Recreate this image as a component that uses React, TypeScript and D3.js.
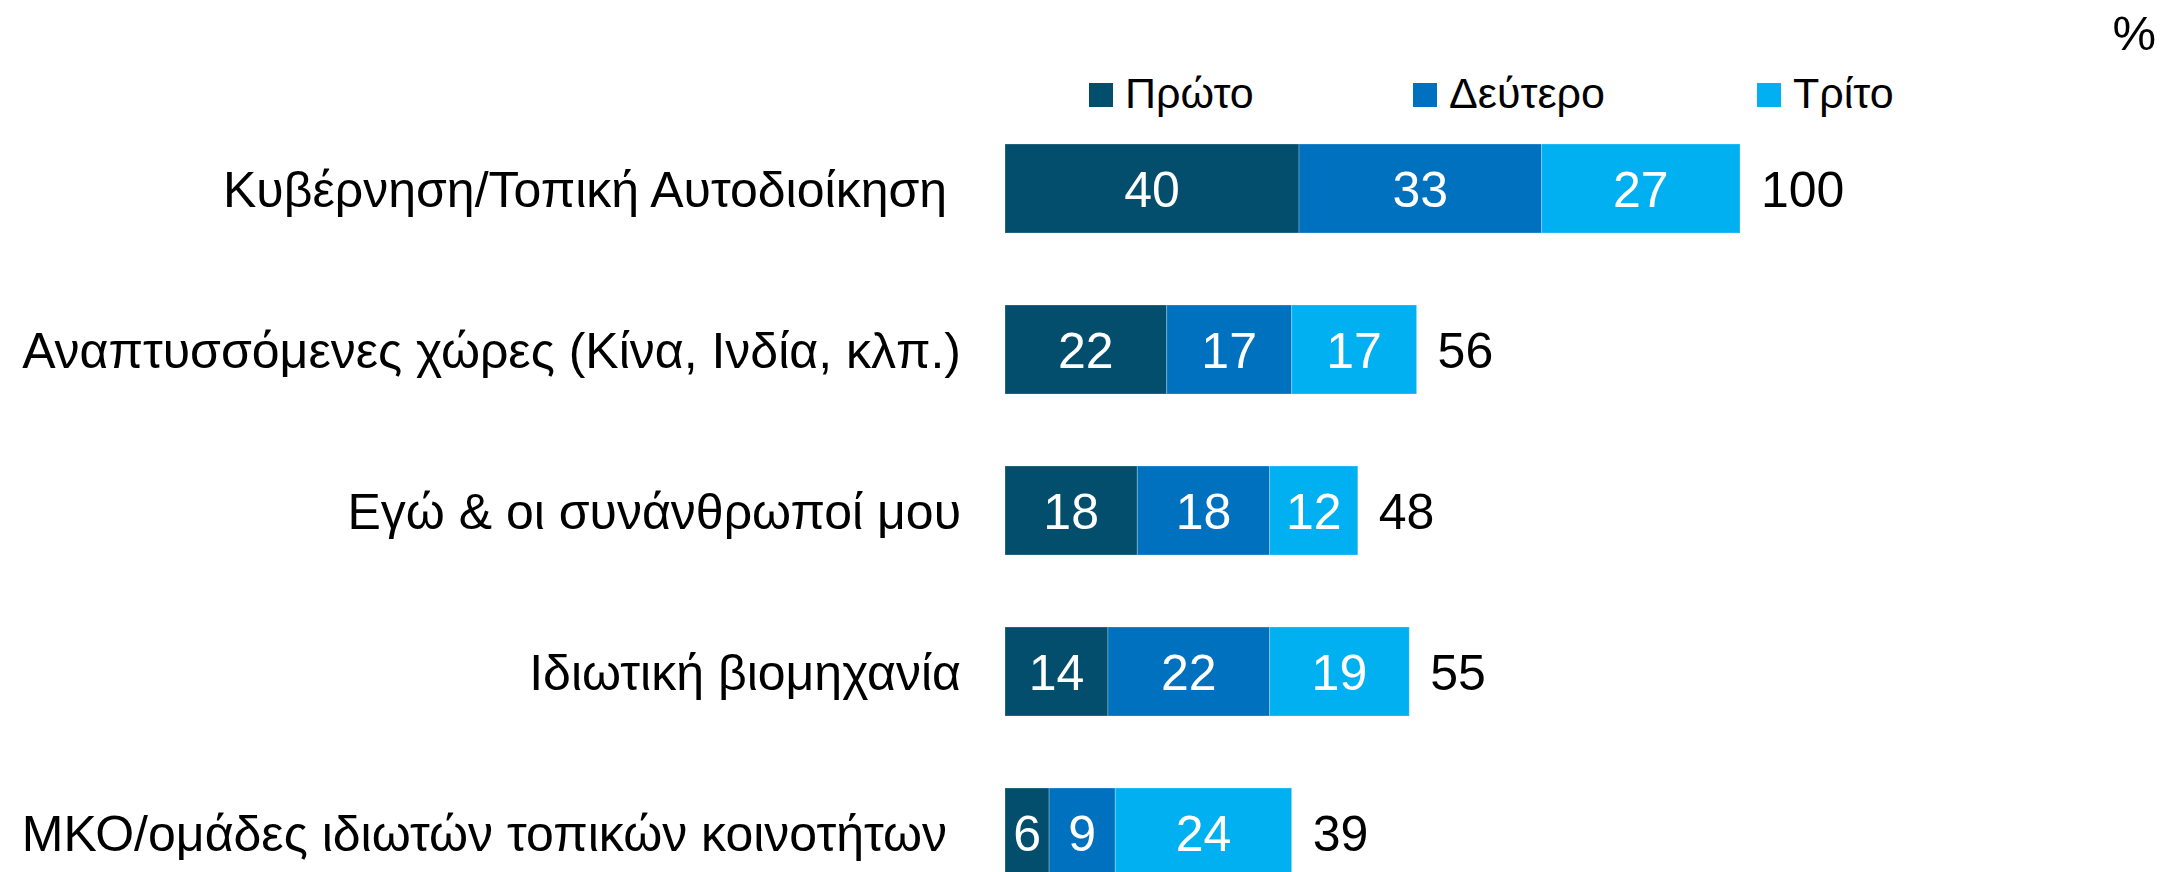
import React from "react";
import * as d3 from "d3";

const categories = [
  "Κυβέρνηση/Τοπική Αυτοδιοίκηση ",
  "Αναπτυσσόμενες χώρες (Κίνα, Ινδία, κλπ.)",
  "Εγώ & οι συνάνθρωποί μου",
  "Ιδιωτική βιομηχανία",
  "ΜΚΟ/ομάδες ιδιωτών τοπικών κοινοτήτων ",
];
const seriesNames = ["Πρώτο", "Δεύτερο", "Τρίτο"];
const first = [40, 22, 18, 14, 6];
const second = [33, 17, 18, 22, 9];
const third = [27, 17, 12, 19, 24];
const totals = [100, 56, 48, 55, 39];
const colors = ["#034e6c", "#0071bf", "#01b0f0"];
const unitLabel = "%";

const W = 2172;
const H = 872;
const FONT = "'Liberation Sans', Arial, sans-serif";

export default function App() {
  const x = d3.scaleLinear().domain([0, 100]).range([1005, 1740]);
  const y = d3
    .scaleBand<string>()
    .domain(categories)
    .range([144, 877])
    .paddingInner(72 / 161)
    .paddingOuter(0);

  const rows = categories.map((c, i) => ({
    cat: c,
    vals: [first[i], second[i], third[i]],
    total: totals[i],
  }));
  const stack = d3.stack<any>().keys(["0", "1", "2"]).value((d, k) => d.vals[+k]);
  const stacked = stack(rows as any);

  const bw = y.bandwidth();
  const legendX = [1089, 1413, 1757];

  return (
    <svg
      width={W}
      height={H}
      style={{ position: "absolute", left: 0, top: 0, display: "block", background: "#fff" }}
      fontFamily={FONT}
    >
      <text x={2156} y={50} textAnchor="end" fontSize={49} fill="#000">
        {unitLabel}
      </text>
      {seriesNames.map((s, i) => (
        <g key={s}>
          <rect x={legendX[i]} y={83} width={24} height={24} fill={colors[i]} />
          <text x={legendX[i] + 36} y={108} fontSize={43} fill="#000">
            {s}
          </text>
        </g>
      ))}
      {stacked.map((layer, si) => (
        <g key={si}>
          {layer.map((seg, ri) => {
            const x0 = x(seg[0]);
            const x1 = x(seg[1]);
            const yy = y(categories[ri])!;
            return (
              <g key={ri}>
                <rect
                  x={x0}
                  y={yy}
                  width={x1 - x0}
                  height={bw}
                  fill={colors[si]}
                  stroke="rgba(255,255,255,0.25)"
                  strokeWidth={1}
                />
                <text
                  x={(x0 + x1) / 2}
                  y={yy + bw / 2 + 18}
                  textAnchor="middle"
                  fontSize={50}
                  fill="#fff"
                >
                  {seg[1] - seg[0]}
                </text>
              </g>
            );
          })}
        </g>
      ))}
      {rows.map((r, i) => {
        const yy = y(r.cat)! + bw / 2;
        return (
          <g key={r.cat}>
            <text
              x={961}
              y={yy + 18}
              textAnchor="end"
              fontSize={50}
              fill="#000"
              style={{ whiteSpace: "pre" }}
            >
              {r.cat}
            </text>
            <text x={x(r.total) + 21} y={yy + 18} fontSize={50} fill="#000">
              {r.total}
            </text>
          </g>
        );
      })}
    </svg>
  );
}
